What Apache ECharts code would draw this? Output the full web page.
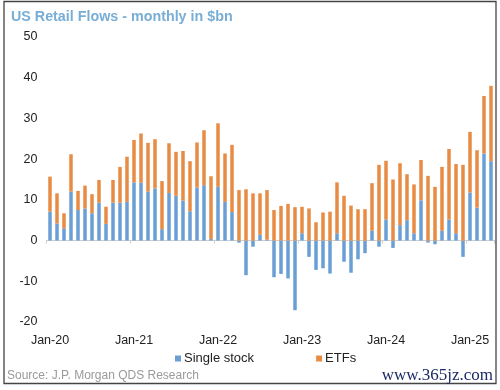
<!DOCTYPE html>
<html>
<head>
<meta charset="utf-8">
<script src="https://cdn.jsdelivr.net/npm/echarts@6/dist/echarts.min.js"></script>
<style>
html,body{margin:0;padding:0;background:#fff;}
#c{width:500px;height:390px;}
</style>
</head>
<body>
<div id="c"></div>
<script>
var months = ['Jan','Feb','Mar','Apr','May','Jun','Jul','Aug','Sep','Oct','Nov','Dec'];
var categories = [];
for (var y = 20; y <= 25; y++) {
  for (var m = 0; m < 12; m++) {
    if (y === 25 && m > 3) break;
    categories.push(months[m] + '-' + y);
  }
}
var singleStock = [
  7.1, 4.2, 3.0, 12.0, 7.5, 7.9, 6.7, 9.3, 4.1, 9.3, 9.3, 9.5,
  14.3, 14.2, 12.0, 12.8, 2.8, 11.7, 11.0, 9.8, 7.2, 13.0, 13.6, 0.4,
  13.2, 9.5, 7.0, -0.5, -8.5, -1.5, 1.4, 0.2, -9.0, -8.2, -9.3, -17.1,
  1.8, -4.0, -7.2, -6.8, -8.1, 1.8, -5.2, -7.9, -4.6, -3.1, 2.4, -1.5,
  5.2, -1.8, 3.8, 5.0, 1.8, 9.9, -0.5, -0.9, 2.4, 5.2, 1.8, -4.0,
  11.8, 8.1, 21.4, 19.5
];
var etfs = [
  8.6, 7.4, 3.7, 9.2, 4.7, 5.6, 4.7, 5.6, 4.2, 5.6, 8.8, 11.1,
  10.4, 12.1, 12.0, 12.1, 11.8, 12.2, 10.8, 12.2, 12.3, 11.1, 13.5, 15.4,
  15.6, 11.9, 16.5, 12.4, 12.6, 11.6, 10.2, 12.2, 7.5, 8.5, 9.0, 8.2,
  6.5, 7.9, 4.5, 6.9, 7.1, 12.5, 11.0, 8.6, 7.7, 7.7, 11.7, 18.6,
  14.4, 15.0, 15.2, 11.3, 12.0, 9.9, 15.9, 13.2, 15.7, 17.3, 17.0, 18.6,
  14.9, 14.1, 14.1, 18.5
];
var yTicks = {min: -20, max: 50, interval: 10};

var chart = echarts.init(document.getElementById('c'), null, {renderer: 'canvas'});
var font = 'Liberation Sans, Arial, sans-serif';
chart.setOption({
  animation: false,
  backgroundColor: '#fff',
  title: {
    text: 'US Retail Flows - monthly in $bn',
    left: 6, top: 5,
    textStyle: {color: '#78aed6', fontSize: 14.3, fontWeight: 'bold', fontFamily: font}
  },
  legend: {
    data: ['Single stock', 'ETFs'],
    left: 170, top: 347,
    itemWidth: 6, itemHeight: 6, itemGap: 62,
    icon: 'rect',
    textStyle: {color: '#222', fontSize: 13, fontFamily: font, padding: [0, 0, 0, -2]}
  },
  grid: {left: 46.5, right: 5.5, top: 37, bottom: 68, containLabel: false},
  xAxis: [{
    type: 'category', data: categories, position: 'bottom',
    axisLine: {show: false, onZero: false},
    axisTick: {show: false},
    axisLabel: {interval: 11, color: '#222', fontSize: 12.5, fontFamily: font, margin: 12}
  }, {
    type: 'category', data: categories, position: 'bottom',
    axisLine: {show: true, onZero: true, lineStyle: {color: '#cfcfcf', width: 1}},
    axisTick: {show: true, interval: 11, length: 3, lineStyle: {color: '#cfcfcf'}},
    axisLabel: {show: false}
  }],
  yAxis: {
    type: 'value', min: yTicks.min, max: yTicks.max, interval: yTicks.interval,
    axisLine: {show: false}, axisTick: {show: false},
    splitLine: {show: false},
    axisLabel: {color: '#222', fontSize: 12.5, fontFamily: font, margin: 9}
  },
  series: [{
    name: 'Single stock', type: 'bar', stack: 'a', data: singleStock,
    barWidth: 3.5, itemStyle: {color: '#6a9fd6'}
  }, {
    name: 'ETFs', type: 'bar', stack: 'a', data: etfs,
    barWidth: 3.5, itemStyle: {color: '#e88c45'}
  }],
  graphic: [{
    type: 'rect', shape: {x: 4, y: 1.5, width: 492, height: 382},
    style: {fill: 'none', stroke: '#444', lineWidth: 1.3}, silent: true
  }, {
    type: 'text', left: 7, top: 370,
    style: {text: 'Source: J.P. Morgan QDS Research', fill: '#9a9a9a', fontSize: 12, fontFamily: font}
  }, {
    type: 'text', right: 7, top: 367,
    style: {text: 'www.365jz.com', fill: '#1b2a66', fontSize: 17, fontFamily: 'Liberation Serif, DejaVu Serif, serif'}
  }]
});
</script>
</body>
</html>
